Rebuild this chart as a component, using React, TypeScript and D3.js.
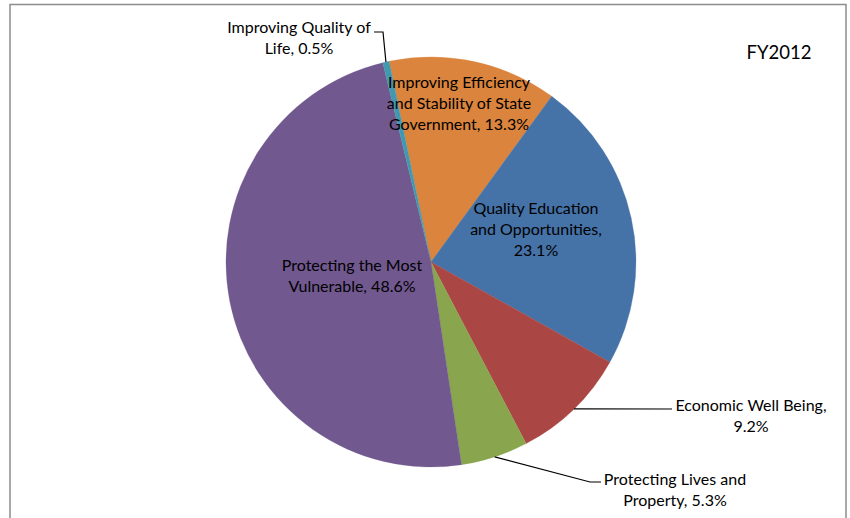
import React from 'react';
import * as d3 from 'd3';

// slices in clockwise order, starting just left of 12 o'clock
const categories = [
  'Improving Efficiency and Stability of State Government',
  'Quality Education and Opportunities',
  'Economic Well Being',
  'Protecting Lives and Property',
  'Protecting the Most Vulnerable',
  'Improving Quality of Life',
];
const shares = [13.3, 23.1, 9.2, 5.3, 48.6, 0.5];
const labelLines = [
  ['Improving Efficiency', 'and Stability of State', 'Government, 13.3%'],
  ['Quality Education', 'and Opportunities,', '23.1%'],
  ['Economic Well Being,', '9.2%'],
  ['Protecting Lives and', 'Property, 5.3%'],
  ['Protecting the Most', 'Vulnerable, 48.6%'],
  ['Improving Quality of', 'Life, 0.5%'],
];
const colors = ['#DB843D', '#4572A7', '#AA4643', '#89A54E', '#71588F', '#4198AF'];
const chartTitle = 'FY2012';

const W = 850;
const H = 518;
const cx = 431;
const cy = 262;
const R = 205;
const FONT = 'Lato, "Open Sans", sans-serif';
const LINE_H = 21;

// label centres (first line) and leader elbows, per slice
const labelLayout = [
  { x: 459, y: 81, anchor: 'middle' },
  { x: 536, y: 207, anchor: 'middle' },
  { x: 751, y: 404, anchor: 'middle', leader: [[672, 409]] },
  { x: 675, y: 478, anchor: 'middle', leader: [[590, 482], [601, 482]] },
  { x: 352, y: 264, anchor: 'middle' },
  { x: 299, y: 26, anchor: 'middle', leader: [[383, 32], [374, 32]] },
];

const startDeg = -11.8;

export default function App() {
  const pie = d3
    .pie<number>()
    .sort(null)
    .value((d) => d)
    .startAngle((startDeg * Math.PI) / 180)
    .endAngle((startDeg * Math.PI) / 180 + 2 * Math.PI);
  const arcs = pie(shares);
  const arc = d3.arc<d3.PieArcDatum<number>>().innerRadius(0).outerRadius(R);

  const edgePoint = (a: d3.PieArcDatum<number>) => {
    const m = (a.startAngle + a.endAngle) / 2;
    return [cx + R * Math.sin(m), cy - R * Math.cos(m)];
  };

  return (
    <svg
      width={W}
      height={H}
      style={{ position: 'absolute', left: 0, top: 0, background: '#fff' }}
      fontFamily={FONT}
    >
      <rect x={10} y={4.5} width={836} height={H + 20} fill="#fff" stroke="#8c8c8c" strokeWidth={1.5} />
      <g transform={`translate(${cx},${cy})`}>
        {arcs.map((a, i) => (
          <path key={categories[i]} d={arc(a) || ''} fill={colors[i]} stroke={colors[i]} strokeWidth={0.3} />
        ))}
      </g>

      {arcs.map((a, i) => {
        const lay = labelLayout[i];
        if (!lay.leader) return null;
        const pts = [edgePoint(a), ...lay.leader];
        return (
          <path
            key={'l' + i}
            d={d3.line()(pts as [number, number][]) || ''}
            fill="none"
            stroke="#000"
            strokeWidth={1.2}
          />
        );
      })}

      {labelLines.map((lines, i) => {
        const lay = labelLayout[i];
        return (
          <text
            key={'t' + i}
            x={lay.x}
            y={lay.y}
            textAnchor={lay.anchor as any}
            dominantBaseline="central"
            fontSize={16}
            fill="#000"
          >
            {lines.map((ln, j) => (
              <tspan key={j} x={lay.x} dy={j === 0 ? 0 : LINE_H}>
                {ln}
              </tspan>
            ))}
          </text>
        );
      })}

      <text x={779} y={52} textAnchor="middle" dominantBaseline="central" fontSize={18.5} fill="#000">
        {chartTitle}
      </text>
    </svg>
  );
}
